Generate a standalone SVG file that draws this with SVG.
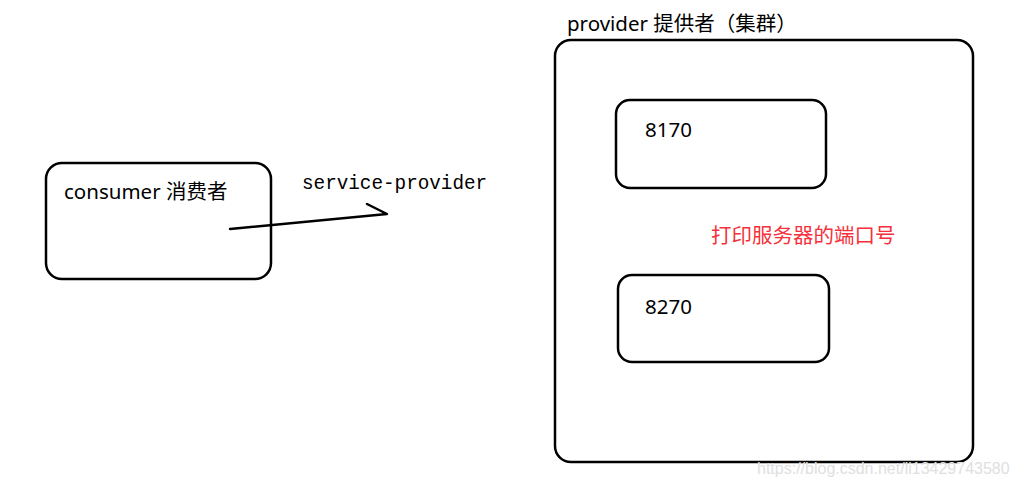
<svg xmlns="http://www.w3.org/2000/svg" width="1018" height="488" viewBox="0 0 1018 488">
<style>
.box{fill:none;stroke:#000;stroke-width:2.5}
.t{font-family:"Noto Sans","Noto Sans CJK SC",sans-serif;font-size:20.5px;fill:#000}
.m{font-family:"Liberation Mono","DejaVu Sans Mono",monospace;font-size:19.3px;fill:#000}
.red{font-family:"Noto Sans CJK SC",sans-serif;font-size:20.5px;fill:#f5303a}
.wm{font-family:"Liberation Sans",Arial,sans-serif;font-size:16px;fill:#e0e0e0}
</style>
<rect width="1018" height="488" fill="#fff"/>
<g id="consumer">
<rect class="box" x="46" y="163" width="225" height="116" rx="16"/>
<text class="t" x="64" y="199">consumer 消费者</text>
</g>
<g id="provider">
<rect class="box" x="555" y="40" width="418" height="422" rx="16"/>
<text class="t" x="567" y="31">provider 提供者（集群）</text>
<text class="red" x="711" y="243">打印服务器的端口号</text>
</g>
<g id="p8170">
<rect class="box" x="616" y="100" width="210" height="88" rx="14"/>
<text class="t" x="645" y="137">8170</text>
</g>
<g id="p8270">
<rect class="box" x="618" y="275" width="211" height="87" rx="14"/>
<text class="t" x="645" y="314">8270</text>
</g>
<g id="connectors" fill="none" stroke="#000" stroke-width="2.5" stroke-linecap="round" stroke-linejoin="round">
<polyline points="230,229 387,214 367,204"/>
</g>
<text class="m" x="302" y="189">service-provider</text>
<text class="wm" x="757" y="474">https://blog.csdn.net/li13429743580</text>
</svg>
